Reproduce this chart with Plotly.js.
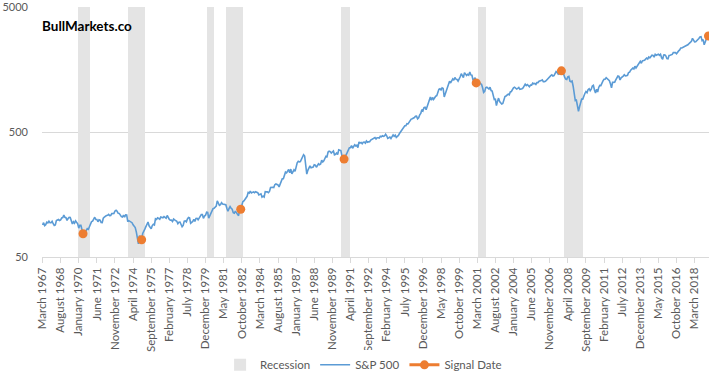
<!DOCTYPE html>
<html>
<head>
<meta charset="utf-8">
<script src="https://cdn.plot.ly/plotly-3.0.1.min.js"></script>
<style>html,body{margin:0;padding:0;background:#fff;}#chart{width:720px;height:382px;}</style>
</head>
<body>
<div id="chart"></div>
<script>
// ---- DATA ----
const monthNames = ["January","February","March","April","May","June","July","August","September","October","November","December"];
const firstYear = 1967, firstMonth = 2; // March 1967
// Monthly S&P 500 close, March 1967 .. April 2019
const sp500 = [
  90.20, 94.01, 89.08, 90.64, 94.75, 93.64, 96.71, 93.90, 94.00, 96.47,
  92.24, 89.36, 90.20, 97.59, 98.68, 99.58, 97.74, 98.86, 102.67, 103.41, 108.37, 103.86,
  103.01, 98.13, 101.51, 103.69, 103.46, 97.71, 91.83, 95.51, 93.12, 97.24, 93.81, 92.06,
  85.02, 89.50, 89.63, 81.52, 76.55, 72.72, 78.05, 81.52, 84.21, 83.25, 87.20, 92.15,
  95.88, 96.75, 100.31, 103.95, 99.63, 99.70, 95.58, 99.03, 98.34, 94.23, 93.99, 102.09,
  103.94, 106.57, 107.20, 107.67, 109.53, 107.14, 107.39, 111.09, 110.55, 111.58, 116.67, 118.05,
  116.03, 111.68, 111.52, 106.97, 104.95, 104.26, 108.22, 104.25, 108.43, 108.29, 95.96, 97.55,
  96.57, 96.22, 93.98, 90.31, 87.28, 86.00, 79.31, 72.15, 63.54, 73.90, 69.97, 68.56,
  76.98, 81.59, 83.36, 87.30, 91.15, 95.19, 88.75, 86.88, 83.87, 89.04, 91.24, 90.19,
  100.86, 99.71, 102.77, 101.64, 100.18, 104.28, 103.44, 102.91, 105.24, 102.90, 102.10, 107.46,
  102.03, 99.82, 98.42, 98.44, 96.12, 100.48, 98.85, 96.77, 96.53, 92.34, 94.83, 95.10,
  89.25, 87.04, 89.21, 96.83, 97.24, 95.53, 100.68, 103.29, 102.54, 93.15, 94.70, 96.11,
  99.93, 96.28, 101.59, 101.76, 99.08, 102.91, 103.81, 109.32, 109.32, 101.82, 106.16, 107.94,
  114.16, 113.66, 102.09, 106.29, 111.24, 114.24, 121.67, 122.38, 125.46, 127.47, 140.52, 135.76,
  129.55, 131.27, 136.00, 132.81, 132.59, 131.21, 130.92, 122.79, 116.18, 121.89, 126.35, 122.55,
  120.40, 113.11, 111.96, 116.44, 111.88, 109.61, 107.09, 119.51, 120.42, 133.71, 138.54, 140.64,
  145.30, 148.06, 152.96, 164.42, 162.39, 168.11, 162.56, 164.40, 166.07, 163.55, 166.40, 164.93,
  163.41, 157.06, 159.18, 160.05, 150.55, 153.18, 150.66, 166.68, 166.10, 166.09, 163.58, 167.24,
  179.63, 181.18, 180.66, 179.83, 189.55, 191.85, 190.92, 188.63, 182.08, 189.82, 202.17, 211.28,
  211.78, 226.92, 238.90, 235.52, 247.35, 250.84, 236.12, 252.93, 231.32, 243.98, 249.22, 242.17,
  274.08, 284.20, 291.70, 288.36, 290.10, 304.00, 318.66, 329.80, 321.83, 251.79, 230.30, 247.08,
  257.07, 267.82, 258.89, 261.33, 262.16, 273.50, 272.02, 261.52, 271.91, 278.97, 273.70, 277.72,
  297.47, 288.86, 294.87, 309.64, 320.52, 317.98, 346.08, 351.45, 349.15, 340.36, 345.99, 353.40,
  329.08, 331.89, 339.94, 330.80, 361.23, 358.02, 356.15, 322.56, 306.05, 304.00, 322.22, 330.22,
  343.93, 367.07, 375.22, 375.34, 389.83, 371.16, 387.81, 395.43, 387.86, 392.46, 375.22, 417.09,
  408.79, 412.70, 403.69, 414.95, 415.35, 408.14, 424.21, 414.03, 417.80, 418.68, 431.35, 435.71,
  438.78, 443.38, 451.67, 440.19, 450.19, 450.53, 448.13, 463.56, 458.93, 467.83, 461.79, 466.45,
  481.61, 467.14, 445.77, 450.91, 456.50, 444.27, 458.26, 475.49, 462.69, 472.35, 453.69, 459.27,
  470.42, 487.39, 500.71, 514.71, 533.40, 544.75, 562.06, 561.88, 584.41, 581.50, 605.37, 615.93,
  636.02, 640.43, 645.50, 654.17, 669.12, 670.63, 639.95, 651.99, 687.31, 705.27, 757.02, 740.74,
  786.16, 790.82, 757.12, 801.34, 848.28, 885.14, 954.29, 899.47, 947.28, 914.62, 955.40, 970.43,
  980.28, 1049.34, 1101.75, 1111.75, 1090.82, 1133.84, 1120.67, 957.28, 1017.01, 1098.67, 1163.63, 1229.23,
  1279.64, 1238.33, 1286.37, 1335.18, 1301.84, 1372.71, 1328.72, 1320.41, 1282.71, 1362.93, 1388.91, 1469.25,
  1394.46, 1366.42, 1498.58, 1452.43, 1420.60, 1454.60, 1430.83, 1517.68, 1436.51, 1429.40, 1314.95, 1320.28,
  1366.01, 1239.94, 1160.33, 1249.46, 1255.82, 1224.38, 1211.23, 1133.58, 1040.94, 1059.78, 1139.45, 1148.08,
  1130.20, 1106.73, 1147.39, 1076.92, 1067.14, 989.82, 911.62, 916.07, 815.28, 885.76, 936.31, 879.82,
  855.70, 841.15, 848.18, 916.92, 963.59, 974.50, 990.31, 1008.01, 995.97, 1050.71, 1058.20, 1111.92,
  1131.13, 1144.94, 1126.21, 1107.30, 1120.68, 1140.84, 1101.72, 1104.24, 1114.58, 1130.20, 1173.82, 1211.92,
  1181.27, 1203.60, 1180.59, 1156.85, 1191.50, 1191.33, 1234.18, 1220.33, 1228.81, 1207.01, 1249.48, 1248.29,
  1280.08, 1280.66, 1294.83, 1310.61, 1270.09, 1270.20, 1276.66, 1303.82, 1335.85, 1377.94, 1400.63, 1418.30,
  1438.24, 1406.82, 1420.86, 1482.37, 1530.62, 1503.35, 1455.27, 1473.99, 1526.75, 1549.38, 1481.14, 1468.36,
  1378.55, 1330.63, 1322.70, 1385.59, 1400.38, 1280.00, 1267.38, 1282.83, 1166.36, 968.75, 896.24, 903.25,
  825.88, 735.09, 797.87, 872.81, 919.14, 919.32, 987.48, 1020.62, 1057.08, 1036.19, 1095.63, 1115.10,
  1073.87, 1104.49, 1169.43, 1186.69, 1089.41, 1030.71, 1101.60, 1049.33, 1141.20, 1183.26, 1180.55, 1257.64,
  1286.12, 1327.22, 1325.83, 1363.61, 1345.20, 1320.64, 1292.28, 1218.89, 1131.42, 1253.30, 1246.96, 1257.60,
  1312.41, 1365.68, 1408.47, 1397.91, 1310.33, 1362.16, 1379.32, 1406.58, 1440.67, 1412.16, 1416.18, 1426.19,
  1498.11, 1514.68, 1569.19, 1597.57, 1630.74, 1606.28, 1685.73, 1632.97, 1681.55, 1756.54, 1805.81, 1848.36,
  1782.59, 1859.45, 1872.34, 1883.95, 1923.57, 1960.23, 1930.67, 2003.37, 1972.29, 2018.05, 2067.56, 2058.90,
  1994.99, 2104.50, 2067.89, 2085.51, 2107.39, 2063.11, 2103.84, 1972.18, 1920.03, 2079.36, 2080.41, 2043.94,
  1940.24, 1932.23, 2059.74, 2065.30, 2096.95, 2098.86, 2173.60, 2170.95, 2168.27, 2126.15, 2198.81, 2238.83,
  2278.87, 2363.64, 2362.72, 2384.20, 2411.80, 2423.41, 2470.30, 2471.65, 2519.36, 2575.26, 2647.58, 2673.61,
  2823.81, 2713.83, 2640.87, 2648.05, 2705.27, 2718.37, 2816.29, 2901.52, 2913.98, 2711.74, 2760.17, 2506.85,
  2704.10, 2784.49, 2834.40, 2945.83
];
const signalDates = ["May 1970", "December 1974", "September 1982", "October 1990", "February 2001", "October 2007", "April 2019"];
const recessions = [
  ["January 1970", "November 1970"],
  ["December 1973", "March 1975"],
  ["February 1980", "July 1980"],
  ["August 1981", "November 1982"],
  ["August 1990", "March 1991"],
  ["April 2001", "November 2001"],
  ["January 2008", "June 2009"]
];
const tickLabels = ["March 1967","August 1968","January 1970","June 1971","November 1972","April 1974","September 1975","February 1977","July 1978","December 1979","May 1981","October 1982","March 1984","August 1985","January 1987","June 1988","November 1989","April 1991","September 1992","February 1994","July 1995","December 1996","May 1998","October 1999","March 2001","August 2002","January 2004","June 2005","November 2006","April 2008","September 2009","February 2011","July 2012","December 2013","May 2015","October 2016","March 2018"];
const yTicks = [50, 500, 5000];

// ---- BUILD ----
const categories = sp500.map((_, i) => {
  const m = firstMonth + i;
  return monthNames[m % 12] + " " + (firstYear + Math.floor(m / 12));
});
const idx = {};
categories.forEach((c, i) => idx[c] = i);
const recessionFlag = categories.map(() => 0);
recessions.forEach(([a, b]) => { for (let i = idx[a]; i <= idx[b]; i++) recessionFlag[i] = 1; });
const signalVals = categories.map(() => null);
signalDates.forEach(d => { signalVals[idx[d]] = sp500[idx[d]]; });

const font = "Lato, 'Open Sans', sans-serif";
const grey = "#595959";

const traces = [
  { type: "bar", name: "Recession", x: categories, y: recessionFlag, yaxis: "y",
    marker: { color: "#e4e4e4", line: { width: 0 } }, hoverinfo: "skip" },
  { type: "scatter", mode: "lines", name: "S&P 500", x: categories, y: sp500, yaxis: "y2",
    line: { color: "#5b9bd5", width: 1.6 } },
  { type: "scatter", mode: "lines+markers", name: "Signal Date", x: categories, y: signalVals, yaxis: "y2",
    connectgaps: false, line: { color: "#ed7d31", width: 3 }, marker: { color: "#ed7d31", size: 9 } }
];

const layout = {
  width: 720, height: 382,
  margin: { l: 42, r: 11, t: 7, b: 125, autoexpand: false },
  paper_bgcolor: "#ffffff", plot_bgcolor: "#ffffff",
  bargap: 0,
  showlegend: true,
  font: { family: font, size: 11, color: grey },
  xaxis: {
    type: "category", range: [-0.5, categories.length - 0.5],
    tickmode: "array", tickvals: tickLabels, ticktext: tickLabels,
    tickangle: -90, ticks: "outside", ticklen: 5, tickcolor: "#d9d9d9",
    showline: true, linecolor: "#d9d9d9", linewidth: 1, showgrid: false,
    tickfont: { family: font, size: 11.5, color: grey }
  },
  yaxis: { range: [0, 1], visible: false, fixedrange: true },
  yaxis2: {
    overlaying: "y", side: "left", type: "log",
    range: [Math.log10(50) - 0.001, Math.log10(5000) + 0.003],
    tickmode: "array", tickvals: yTicks, ticktext: yTicks.map(String),
    showgrid: true, gridcolor: "#d9d9d9", gridwidth: 1, zeroline: false, showline: false,
    ticks: "", ticklabelstandoff: 13,
    tickfont: { family: font, size: 11, color: grey }
  },
  legend: {
    orientation: "h", xref: "container", yref: "container",
    x: 0.505, xanchor: "center", y: 0.045, yanchor: "middle",
    font: { family: font, size: 11.5, color: grey }, traceorder: "normal"
  },
  annotations: [{
    text: "<b>BullMarkets.co</b>", xref: "paper", yref: "paper", x: -0.003, y: 0.923,
    xanchor: "left", yanchor: "middle", showarrow: false,
    font: { family: font, size: 13.5, color: "#000000" }
  }]
};

Plotly.newPlot("chart", traces, layout, { displayModeBar: false, staticPlot: true });
</script>
</body>
</html>
